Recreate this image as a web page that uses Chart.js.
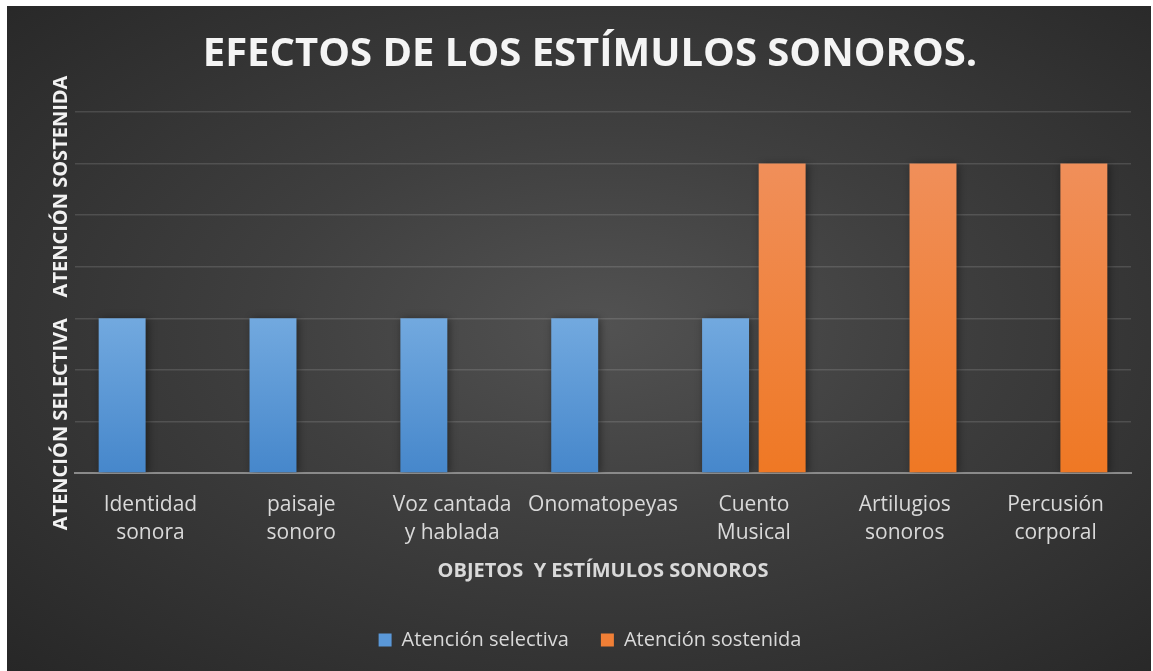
<!DOCTYPE html>
<html>
<head>
<meta charset="utf-8">
<script src="https://cdn.jsdelivr.net/npm/chart.js@4"></script>
<style>
  html, body { margin: 0; padding: 0; background: #fff; }
  #wrap {
    position: absolute; left: 7px; top: 6px; width: 1144px; height: 665px;
    background: radial-gradient(ellipse at 52% 48%, #525252 0%, #3f3f3f 40%, #272727 100%);
  }
</style>
</head>
<body>
<div id="wrap"><canvas id="myChart"></canvas></div>
<script>
const categories = [
  ['Identidad', 'sonora'],
  ['paisaje', 'sonoro'],
  ['Voz cantada', 'y hablada'],
  'Onomatopeyas',
  ['Cuento', 'Musical'],
  ['Artilugios', 'sonoros'],
  ['Percusión', 'corporal']
];
const selectiva = [3, 3, 3, 3, 3, null, null];
const sostenida = [null, null, null, null, 6, 6, 6];
const yMax = 7;

const ctx = document.getElementById('myChart');

// vertical gradient for each bar, from its top down to the axis
function barGradient(top, bottom) {
  return (c) => {
    const chart = c.chart;
    const area = chart.chartArea;
    if (!area || c.parsed == null || c.parsed.y == null) return bottom;
    const y = chart.scales.y.getPixelForValue(c.parsed.y);
    const base = chart.scales.y.getPixelForValue(0);
    const g = chart.ctx.createLinearGradient(0, y, 0, base);
    g.addColorStop(0, top);
    g.addColorStop(1, bottom);
    return g;
  };
}

const barShadow = {
  id: 'barShadow',
  beforeDatasetsDraw(chart) {
    const c = chart.ctx;
    c.save();
    c.shadowColor = 'rgba(0,0,0,0.45)';
    c.shadowBlur = 8;
    c.shadowOffsetX = 2;
    c.shadowOffsetY = 1;
  },
  afterDatasetsDraw(chart) {
    chart.ctx.restore();
  }
};

new Chart(ctx, {
  type: 'bar',
  data: {
    labels: categories,
    datasets: [
      {
        label: 'Atención selectiva',
        data: selectiva,
        backgroundColor: barGradient('#72a9df', '#4687cb'),
        categoryPercentage: 0.75,
        barPercentage: 0.83
      },
      {
        label: 'Atención sostenida',
        data: sostenida,
        backgroundColor: barGradient('#f08f5a', '#ef7824'),
        categoryPercentage: 0.75,
        barPercentage: 0.83
      }
    ]
  },
  plugins: [barShadow],
  options: {
    responsive: true,
    maintainAspectRatio: false,
    animation: false,
    layout: { padding: { left: 42, right: 20, top: 0, bottom: 11 } },
    plugins: {
      title: {
        display: true,
        text: 'EFECTOS DE LOS ESTÍMULOS SONOROS.',
        color: '#f4f4f4',
        font: { family: 'Open Sans', size: 40, weight: 'bold' },
        padding: { top: 25, bottom: 33 }
      },
      legend: {
        position: 'bottom',
        labels: {
          color: '#d9d9d9',
          font: { family: 'Open Sans', size: 20 },
          boxWidth: 13,
          boxHeight: 13,
          padding: 32,
          generateLabels(chart) {
            const cols = ['#5a98d8', '#f07f36'];
            return chart.data.datasets.map((ds, i) => ({
              text: ds.label,
              fillStyle: cols[i],
              strokeStyle: cols[i],
              lineWidth: 0,
              datasetIndex: i,
              fontColor: '#d9d9d9'
            }));
          }
        }
      },
      tooltip: { enabled: false }
    },
    scales: {
      x: {
        grid: { display: false },
        border: { display: true, color: '#8a8a8a', width: 2 },
        ticks: {
          color: '#d9d9d9',
          font: { family: 'Open Sans', size: 21, lineHeight: 1.38 },
          padding: 9,
          maxRotation: 0,
          autoSkip: false
        },
        title: {
          display: true,
          text: 'OBJETOS  Y ESTÍMULOS SONOROS',
          color: '#d9d9d9',
          font: { family: 'Open Sans', size: 20, weight: 'bold' },
          padding: { top: 2, bottom: 15 }
        }
      },
      y: {
        min: 0,
        max: yMax,
        ticks: { display: false, stepSize: 1 },
        grid: { color: 'rgba(255,255,255,0.13)', lineWidth: 1.5, drawTicks: false },
        border: { display: false },
        title: {
          display: true,
          text: 'ATENCIÓN SELECTIVA    ATENCIÓN SOSTENIDA    ',
          color: '#f2f2f2',
          font: { family: 'Open Sans', size: 20, weight: 'bold' },
          padding: { top: 0, bottom: 2 }
        }
      }
    }
  }
});
</script>
</body>
</html>
